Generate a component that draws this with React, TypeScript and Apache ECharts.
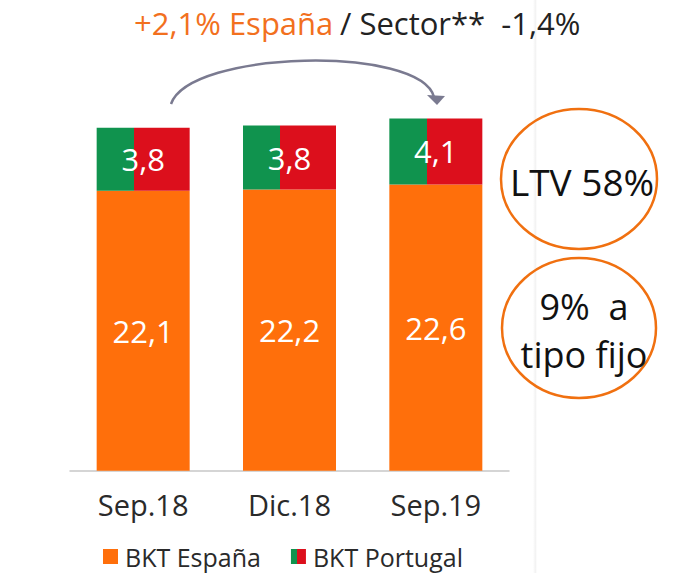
import React, { useEffect, useRef } from "react";
import * as echarts from "echarts";

const categories = ["Sep.18", "Dic.18", "Sep.19"];
const espana = [22.1, 22.2, 22.6];
// Portugal segment as drawn in the picture (segment height), with its printed labels
const portugalDrawn = [4.97, 5.05, 5.21];
const portugalLabels = ["3,8", "3,8", "4,1"];
const espanaLabels = ["22,1", "22,2", "22,6"];
const seriesNames = ["BKT España", "BKT Portugal"];
const titleOrange = "+2,1% España";
const titleDark = "/ Sector**  -1,4%";
const note1 = "LTV 58%";
const note2 = "9%  a\ntipo fijo";

const ORANGE = "#ff6f0b";
const GREEN = "#10934e";
const RED = "#dc0f1c";
const FONT = "'Open Sans', 'Noto Sans', sans-serif";

export default function App() {
  const ref = useRef<HTMLDivElement>(null);
  useEffect(() => {
    if (!ref.current) return;
    const chart = echarts.init(ref.current, null, { renderer: "svg" });
    const ptGrad = new echarts.graphic.LinearGradient(0, 0, 1, 0, [
      { offset: 0, color: GREEN },
      { offset: 0.4, color: GREEN },
      { offset: 0.4, color: RED },
      { offset: 1, color: RED },
    ]);
    chart.setOption({
      animation: false,
      backgroundColor: "#ffffff",
      textStyle: { fontFamily: FONT },
      grid: { left: 70, width: 439, top: 90.7, height: 380, containLabel: false },
      xAxis: {
        type: "category",
        data: categories,
        axisLine: { lineStyle: { color: "#c8c8c8", width: 1.5 } },
        axisTick: { show: false },
        axisLabel: { fontSize: 29, color: "#2a2a2a", margin: 19, fontFamily: FONT },
      },
      yAxis: { type: "value", min: 0, max: 30, show: false, splitLine: { show: false } },
      legend: {
        data: seriesNames,
        icon: "rect",
        itemWidth: 15,
        itemHeight: 15,
        itemGap: 30,
        left: 103,
        top: 544,
        padding: 0,
        textStyle: { fontSize: 25, color: "#2a2a2a", fontFamily: FONT, padding: [0, 0, 0, 2] },
      },
      series: [
        {
          name: seriesNames[0],
          type: "bar",
          stack: "t",
          barWidth: 93,
          data: espana,
          itemStyle: { color: ORANGE },
          label: {
            show: true,
            position: "inside",
            color: "#ffffff",
            fontSize: 31,
            fontFamily: FONT,
            formatter: (p: any) => espanaLabels[p.dataIndex],
          },
        },
        {
          name: seriesNames[1],
          type: "bar",
          stack: "t",
          barWidth: 93,
          data: portugalDrawn,
          itemStyle: { color: ptGrad },
          label: {
            show: true,
            position: "inside",
            color: "#ffffff",
            fontSize: 31,
            fontFamily: FONT,
            formatter: (p: any) => portugalLabels[p.dataIndex],
          },
        },
      ],
      graphic: [
        {
          type: "rect",
          shape: { x: 533, y: 0, width: 4, height: 573 },
          style: {
            fill: new echarts.graphic.LinearGradient(0, 0, 1, 0, [
              { offset: 0, color: "rgba(0,0,0,0)" },
              { offset: 0.6, color: "rgba(0,0,0,0.05)" },
              { offset: 1, color: "rgba(0,0,0,0)" },
            ]),
          },
          z: 0,
        },
        {
          type: "text",
          x: 134,
          y: 38,
          style: {
            text: "{a|" + titleOrange + "}  {b|" + titleDark + "}",
            verticalAlign: "bottom",
            rich: {
              a: { fontSize: 31, fill: "#f2701e", fontFamily: FONT },
              b: { fontSize: 31, fill: "#222222", fontFamily: FONT },
            },
          },
        },
        {
          type: "bezierCurve",
          shape: { x1: 171, y1: 104, cpx1: 190, cpy1: 50, cpx2: 420, cpy2: 45, x2: 434, y2: 97 },
          style: { stroke: "#7a7a90", lineWidth: 2.5, fill: "none" },
        },
        {
          type: "polygon",
          shape: { points: [[427, 95], [445, 96], [437, 105]] },
          style: { fill: "#7a7a90" },
        },
        {
          type: "ellipse",
          shape: { cx: 579, cy: 179, rx: 78, ry: 70 },
          style: { fill: "none", stroke: "#f07010", lineWidth: 2.5 },
        },
        {
          type: "ellipse",
          shape: { cx: 579, cy: 328, rx: 77, ry: 70 },
          style: { fill: "none", stroke: "#f07010", lineWidth: 2.5 },
        },
        {
          type: "text",
          x: 582,
          y: 181,
          style: {
            text: note1,
            fontSize: 37,
            fill: "#111111",
            fontFamily: FONT,
            align: "center",
            verticalAlign: "middle",
          },
        },
        {
          type: "text",
          x: 584,
          y: 330,
          style: {
            text: note2,
            fontSize: 36,
            lineHeight: 48,
            fill: "#111111",
            fontFamily: FONT,
            align: "center",
            verticalAlign: "middle",
          },
        },
      ],
    });
    return () => chart.dispose();
  }, []);
  return (
    <div
      ref={ref}
      style={{ position: "fixed", left: 0, top: 0, width: 679, height: 573 }}
    />
  );
}
